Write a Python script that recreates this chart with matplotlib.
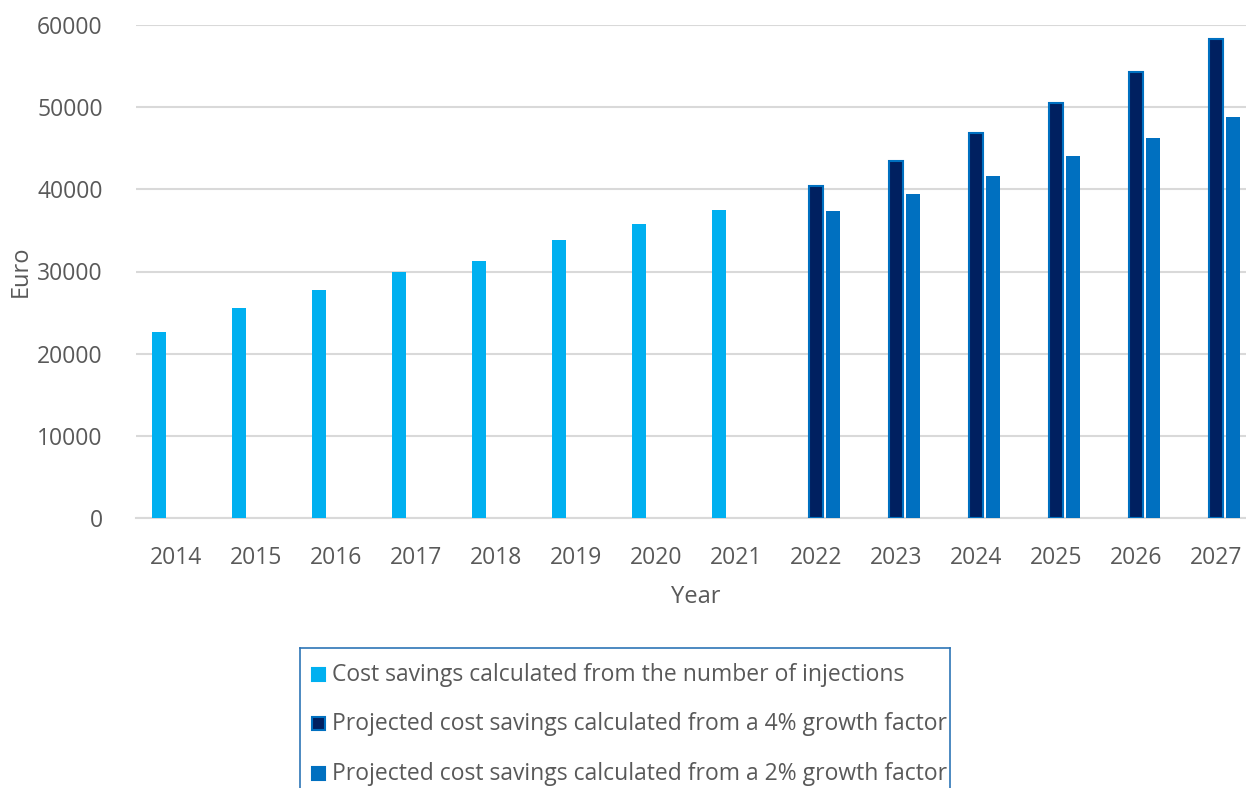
import matplotlib.pyplot as plt
from matplotlib.patches import Rectangle
import numpy as np

plt.rcParams['font.family'] = ['Open Sans', 'DejaVu Sans']

# data (nan = no bar for that year)
nan = np.nan
years = ['2014', '2015', '2016', '2017', '2018', '2019', '2020',
         '2021', '2022', '2023', '2024', '2025', '2026', '2027']
injections = [22600, 25500, 27800, 29900, 31300, 33800, 35800, 37500,
              nan, nan, nan, nan, nan, nan]
growth4 = [nan, nan, nan, nan, nan, nan, nan, nan,
           40400, 43400, 46800, 50500, 54300, 58300]
growth2 = [nan, nan, nan, nan, nan, nan, nan, nan,
           37400, 39400, 41600, 44000, 46300, 48800]
labels = ['Cost savings calculated from the number of injections',
          'Projected cost savings calculated from a 4% growth factor',
          'Projected cost savings calculated from a 2% growth factor']

c1 = '#00B0F0'
c2 = '#002060'
c3 = '#0070C0'
txt = '#595959'
W, H = 1246, 788
fs = 16.5

fig = plt.figure(figsize=(W / 100, H / 100), dpi=100)
ax = fig.add_axes([136 / W, (H - 518) / H, 1120 / W, 493 / H])

x = np.arange(len(years))
bw = 0.18
off = 0.215
ax.bar(x - off, injections, bw, color=c1, zorder=3)
ax.bar(x, growth4, bw, color=c2, edgecolor=c3, linewidth=1.5, zorder=3)
ax.bar(x + off, growth2, bw, color=c3, zorder=3)

ax.set_xlim(-0.5, len(years) - 0.5)
ax.set_ylim(0, 60000)
ax.set_yticks(np.arange(0, 60001, 10000))
ax.set_xticks(x)
ax.set_xticklabels(years)
ax.yaxis.grid(True, color='#D9D9D9', linewidth=1.5, zorder=0)
ax.set_axisbelow(True)
for s in ['top', 'right', 'left']:
    ax.spines[s].set_visible(False)
ax.spines['bottom'].set_color('#D9D9D9')
ax.spines['bottom'].set_linewidth(1.5)
ax.tick_params(axis='both', length=0, labelsize=fs, labelcolor=txt)
ax.tick_params(axis='x', pad=20)
ax.tick_params(axis='y', pad=24)
ax.set_xlabel('Year', fontsize=fs + 0.5, color=txt, labelpad=11)
ax.set_ylabel('Euro', fontsize=fs + 0.5, color=txt, labelpad=3)

# legend box, clipped like the reference
lg = fig.add_axes([300 / W, (H - 800) / H, 650 / W, 152 / H])
lg.set_xlim(0, 650)
lg.set_ylim(152, 0)
lg.set_xticks([])
lg.set_yticks([])
for s in lg.spines.values():
    s.set_color('#2E75B6')
    s.set_linewidth(1.2)
ys = [27, 76, 126]
cols = [(c1, c1), (c2, c3), (c3, c3)]
for yy, lab, (fc, ec) in zip(ys, labels, cols):
    lg.add_patch(Rectangle((12, yy - 7), 13, 13, facecolor=fc,
                           edgecolor=ec, linewidth=1.5))
    lg.text(32, yy, lab, fontsize=fs, color=txt, va='center', ha='left',
            clip_on=True)

fig.savefig('out.png', dpi=100)
